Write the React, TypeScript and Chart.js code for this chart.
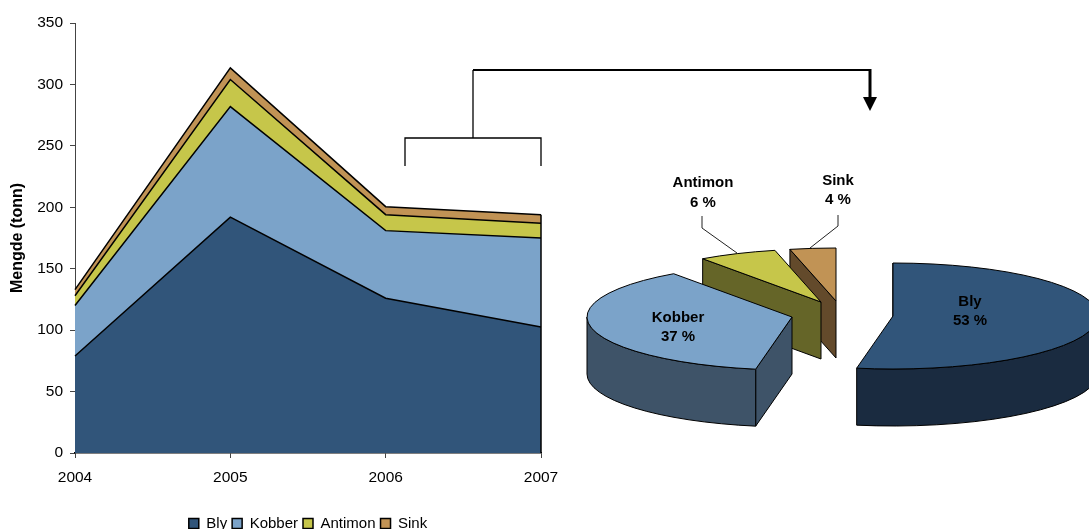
import React, { useEffect, useRef } from "react";
import { Chart, registerables } from "chart.js";

Chart.register(...registerables);

const years = ["2004", "2005", "2006", "2007"];
const bly = [79, 192, 126, 102.5];
const kobber = [41, 90, 55, 72.5];
const antimon = [8, 22, 13, 12];
const sink = [5, 9.5, 6.5, 7];
const seriesNames = ["Bly", "Kobber", "Antimon", "Sink"];
const piePercentLabels = ["53 %", "37 %", "6 %", "4 %"];
const yTicks = [0, 50, 100, 150, 200, 250, 300, 350];

const topColors = ["#31557A", "#7BA3C9", "#C6C64A", "#C19355"];
const wallColors = ["#1A2B40", "#3E5368", "#656528", "#634A2B"];
const FONT = '"Liberation Sans", Arial, sans-serif';

const RX = 205;
const RY = 53;
const DEPTH = 57;
const sliceCentres = [
  { x: 893, y: 316 },
  { x: 792, y: 317 },
  { x: 821, y: 302 },
  { x: 836, y: 301 },
];
const sliceLabels = [
  { x: 970, y1: 302, y2: 321 },
  { x: 678, y1: 318, y2: 337 },
  { x: 703, y1: 183, y2: 203 },
  { x: 838, y1: 181, y2: 200 },
];
const leaders = [
  [[702, 216], [702, 228], [737, 253]],
  [[838, 215], [838, 226], [810, 248]],
];

function path(ctx: CanvasRenderingContext2D, pts: number[][]) {
  ctx.beginPath();
  pts.forEach((p, i) => (i ? ctx.lineTo(p[0], p[1]) : ctx.moveTo(p[0], p[1])));
  ctx.stroke();
}

const rad = (d: number) => ((d - 90) * Math.PI) / 180;

const overlay = {
  id: "overlay",
  afterDraw(chart: any) {
    const ctx: CanvasRenderingContext2D = chart.ctx;
    const { x, y } = chart.scales;
    ctx.save();
    // right edge of stacked area
    ctx.strokeStyle = "#000";
    ctx.lineWidth = 1.5;
    const lastTotal = bly[3] + kobber[3] + antimon[3] + sink[3];
    path(ctx, [
      [x.getPixelForValue(3), y.getPixelForValue(0)],
      [x.getPixelForValue(3), y.getPixelForValue(lastTotal)],
    ]);

    // bracket + arrow
    ctx.lineWidth = 1.3;
    path(ctx, [[405, 166], [405, 138], [541, 138], [541, 166]]);
    path(ctx, [[473, 138], [473, 70]]);
    ctx.lineWidth = 2;
    path(ctx, [[473, 70], [870, 70]]);
    ctx.lineWidth = 3;
    path(ctx, [[870, 69], [870, 98]]);
    ctx.fillStyle = "#000";
    ctx.beginPath();
    ctx.moveTo(863, 97);
    ctx.lineTo(877, 97);
    ctx.lineTo(870, 111);
    ctx.closePath();
    ctx.fill();

    // exploded 3-D pie of the final year
    const values = [bly[3], kobber[3], antimon[3], sink[3]];
    const total = values.reduce((a, b) => a + b, 0);
    const spans: number[][] = [];
    let acc = 0;
    values.forEach((v) => {
      const s = (acc / total) * 360;
      acc += v;
      spans.push([s, (acc / total) * 360]);
    });
    ctx.lineWidth = 1;
    ctx.strokeStyle = "#000";
    ctx.lineJoin = "round";
    [3, 2, 1, 0].forEach((i) => {
      const [a0, a1] = spans[i];
      const c = sliceCentres[i];
      const px = c.x + RX * Math.sin((a0 * Math.PI) / 180);
      const py = c.y - RY * Math.cos((a0 * Math.PI) / 180);
      // cut face
      ctx.fillStyle = wallColors[i];
      ctx.beginPath();
      ctx.moveTo(px, py);
      ctx.lineTo(c.x, c.y);
      ctx.lineTo(c.x, c.y + DEPTH);
      ctx.lineTo(px, py + DEPTH);
      ctx.closePath();
      ctx.fill();
      ctx.stroke();
      // curved wall
      const w0 = Math.max(a0, 90);
      const w1 = Math.min(a1, 270);
      if (w1 > w0) {
        ctx.beginPath();
        ctx.ellipse(c.x, c.y, RX, RY, 0, rad(w0), rad(w1));
        ctx.ellipse(c.x, c.y + DEPTH, RX, RY, 0, rad(w1), rad(w0), true);
        ctx.closePath();
        ctx.fill();
        ctx.stroke();
      }
      // top
      ctx.fillStyle = topColors[i];
      ctx.beginPath();
      ctx.moveTo(c.x, c.y);
      ctx.ellipse(c.x, c.y, RX, RY, 0, rad(a0), rad(a1));
      ctx.closePath();
      ctx.fill();
      ctx.stroke();
    });

    // leader lines
    ctx.strokeStyle = "#222";
    ctx.lineWidth = 1;
    leaders.forEach((l) => path(ctx, l));

    // labels
    ctx.fillStyle = "#000";
    ctx.font = `bold 15px ${FONT}`;
    ctx.textAlign = "center";
    ctx.textBaseline = "middle";
    seriesNames.forEach((n, i) => {
      const l = sliceLabels[i];
      ctx.fillText(n, l.x, l.y1);
      ctx.fillText(piePercentLabels[i], l.x, l.y2);
    });
    ctx.restore();
  },
};

export default function App() {
  const ref = useRef<HTMLCanvasElement>(null);
  useEffect(() => {
    document.body.style.margin = "0";
    const ds = (label: string, data: number[], i: number) => ({
      label,
      data,
      fill: i === 0 ? "origin" : "-1",
      backgroundColor: topColors[i],
      borderColor: "#000",
      borderWidth: 1.5,
      pointRadius: 0,
      tension: 0,
      clip: false,
    });
    const chart = new Chart(ref.current as HTMLCanvasElement, {
      type: "line",
      data: {
        labels: years,
        datasets: [
          ds("Bly", bly, 0),
          ds("Kobber", kobber, 1),
          ds("Antimon", antimon, 2),
          ds("Sink", sink, 3),
        ],
      },
      options: {
        animation: false,
        responsive: false,
        devicePixelRatio: 1,
        layout: { padding: { top: 23, right: 548, left: 0, bottom: -12 } },
        plugins: {
          tooltip: { enabled: false },
          legend: {
            position: "bottom",
            fullSize: false,
            labels: {
              boxWidth: 10,
              boxHeight: 10,
              padding: 5,
              color: "#000",
              font: { family: FONT, size: 15 },
            },
          },
        },
        scales: {
          x: {
            type: "category",
            offset: false,
            afterFit: (s: any) => {
              s.height = 58;
            },
            grid: { drawOnChartArea: false, tickLength: 5, tickColor: "#444" },
            border: { color: "#000", width: 1.5 },
            ticks: {
              padding: 10,
              maxRotation: 0,
              autoSkip: false,
              color: "#000",
              font: { family: FONT, size: 15.5 },
            },
          },
          y: {
            stacked: true,
            min: 0,
            max: 350,
            afterFit: (s: any) => {
              s.width = 75;
            },
            afterBuildTicks: (s: any) => {
              s.ticks = yTicks.map((value) => ({ value }));
            },
            grid: { drawOnChartArea: false, tickLength: 5, tickColor: "#444" },
            border: { color: "#444", width: 1 },
            title: {
              display: true,
              text: "Mengde (tonn)",
              color: "#000",
              font: { family: FONT, size: 16, weight: "bold" },
              padding: { top: 8, bottom: 0 },
            },
            ticks: {
              padding: 7,
              color: "#000",
              font: { family: FONT, size: 15.5 },
            },
          },
        },
      },
      plugins: [overlay],
    } as any);
    return () => chart.destroy();
  }, []);
  return (
    <div style={{ width: 1089, height: 529, overflow: "hidden", background: "#fff" }}>
      <canvas ref={ref} width={1089} height={529} style={{ display: "block" }} />
    </div>
  );
}
